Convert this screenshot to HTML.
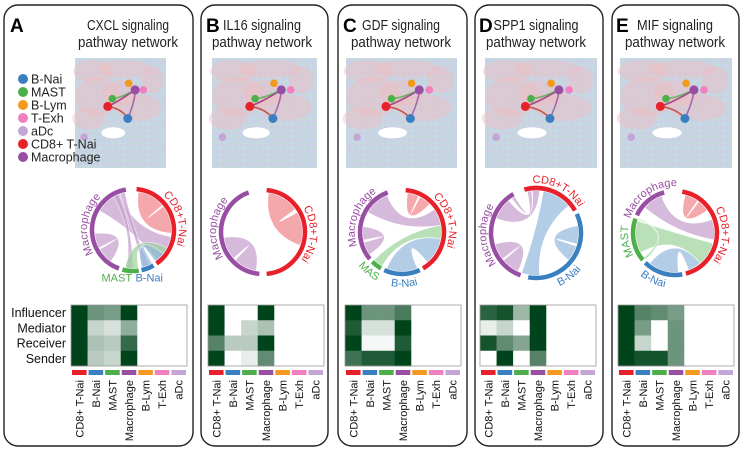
<!DOCTYPE html>
<html><head><meta charset="utf-8"><style>
html,body{margin:0;padding:0;background:#fff;}
svg{display:block;font-family:"Liberation Sans",sans-serif;}
</style></head><body>
<svg id="fig" width="746" height="452" viewBox="0 0 746 452" xmlns="http://www.w3.org/2000/svg"></svg>
<script>
const pathways = ["CXCL","IL16","GDF","SPP1","MIF"];
const panelLetters = ["A","B","C","D","E"];
const cellTypes = ["CD8+ T-Nai","B-Nai","MAST","Macrophage","B-Lym","T-Exh","aDc"];
const typeColors = ["#e8202a","#3a7fc0","#4daf4a","#984ea3","#f39a1e","#f27fbf","#c3a5d6"];
const roles = ["Influencer","Mediator","Receiver","Sender"];
const heatA = [[1,0.5,0.45,1,0,0,0],[1,0.15,0.1,0.35,0,0,0],[1,0.25,0.2,0.75,0,0,0],[1,0.2,0.15,1,0,0,0]];
const heatB = [[1,0,0,1,0,0,0],[1,0,0.15,0.25,0,0,0],[0.6,0.2,0.2,1,0,0,0],[1,0,0.05,0.55,0,0,0]];
const heatC = [[1,0.5,0.5,0.65,0,0,0],[0.85,0.1,0.1,1,0,0,0],[1,0.02,0.02,0.85,0,0,0],[0.7,0.85,0.85,1,0,0,0]];
const heatD = [[0.8,0.9,0.3,1,0,0,0],[0.05,0.15,0,1,0,0,0],[0.9,0.55,0.4,1,0,0,0],[0,1,0,0.6,0,0,0]];
const heatE = [[1,0.6,0.55,0.45,0,0,0],[1,0.45,0,0.5,0,0,0],[1,0.15,0,0.5,0,0,0],[1,0.9,0.9,0.5,0,0,0]];
const heats = [heatA,heatB,heatC,heatD,heatE];
const groupsA = [[0,5,145],[1,150,168],[2,172,195],[3,200,350]];
const groupsB = [[0,5,175],[3,185,340]];
const groupsC = [[0,5,150],[1,155,205],[2,210,225],[3,230,340]];
const groupsD = [[0,-15,60],[1,65,190],[3,200,330]];
const groupsE = [[0,10,165],[1,170,225],[2,230,290],[3,295,345]];
const groupSets = [groupsA,groupsB,groupsC,groupsD,groupsE];
const ribA = [[0,8,50,52,95],[3,215,240,242,265],[3,300,340,100,140],[3,330,338,180,190],[3,340,348,155,165],[2,172,192,118,142],[1,150,167,128,145]];
const ribB = [[0,8,55,60,110],[3,190,225,228,262]];
const ribC = [[0,8,25,27,45],[3,300,338,55,80],[3,235,255,258,278],[2,210,225,80,100],[1,157,203,100,140]];
const ribD = [[3,325,330,-12,-6],[3,205,230,232,255],[3,290,320,-5,5],[1,175,200,10,50],[1,80,105,108,130]];
const ribE = [[0,15,35,37,55],[3,310,340,70,100],[2,240,288,105,140],[1,175,220,140,160],[2,290,292,228,232]];
const ribSets = [ribA,ribB,ribC,ribD,ribE];
const labelsA = [["CD8+T-Nai",0,30,120,0],["Macrophage",3,225,330,0],["MAST",2,190,205,2],["B-Nai",1,150,175,2]];
const labelsB = [["CD8+T-Nai",0,45,140,0],["Macrophage",3,220,330,0]];
const labelsC = [["CD8+T-Nai",0,30,120,0],["Macrophage",3,245,335,0],["MAST",2,205,228,1],["B-Nai",1,155,200,1]];
const labelsD = [["CD8+T-Nai",0,-10,65,0],["Macrophage",3,215,320,0],["B-Nai",1,120,165,1]];
const labelsE = [["CD8+T-Nai",0,45,140,0],["Macrophage",3,280,370,0],["MAST",2,235,285,0],["B-Nai",1,185,225,1]];
const labelSets = [labelsA,labelsB,labelsC,labelsD,labelsE];
const nodeTypes = [4,3,5,2,0,1,6];
const nodeX = [0.59,0.66,0.75,0.41,0.36,0.58,0.10];
const nodeY = [0.23,0.29,0.29,0.37,0.44,0.55,0.72];
const titleLen1 = [82,78,78,85,76];

const panelBox = [[4,193],[201,328],[338,467],[475,603],[612,739]];
const heatX = [71,208,345,480,618];
const mapX = [75,212,346,485,620];
const mapW = [91,105,111,112,112];
const chordC = [[133,230,41],[263,232,42],[402,232,42],[536,233,45],[675,233,42]];
const titleX = [128,262,401,536,675];
const letterX = [10,206,343,479,616];

const svg = document.getElementById('fig');
const NS = "http://www.w3.org/2000/svg";
function mk(tag, attrs, parent){const e=document.createElementNS(NS,tag);for(const k in attrs)e.setAttribute(k,attrs[k]);(parent||svg).appendChild(e);return e;}
function pt(cx,cy,r,a){const t=a*Math.PI/180;return [cx+r*Math.sin(t),cy-r*Math.cos(t)];}
function heatColor(v){const a=[255,255,255],b=[0,68,27];const t=Math.pow(v,0.8);return `rgb(${Math.round(a[0]+(b[0]-a[0])*t)},${Math.round(a[1]+(b[1]-a[1])*t)},${Math.round(a[2]+(b[2]-a[2])*t)})`;}
function light(hex,f){const n=parseInt(hex.slice(1),16);const r=n>>16,g=(n>>8)&255,b=n&255;return `rgb(${Math.round(r+(255-r)*f)},${Math.round(g+(255-g)*f)},${Math.round(b+(255-b)*f)})`;}

const defs = mk('defs',{});
const pat = mk('pattern',{id:'tex',width:6,height:6,patternUnits:'userSpaceOnUse'},defs);
mk('rect',{width:6,height:6,fill:'#c6d6ea'},pat);
mk('circle',{cx:1.5,cy:1.5,r:1.2,fill:'#d7c9d2'},pat);
mk('circle',{cx:4.5,cy:4.5,r:1.2,fill:'#c8dcc8'},pat);

for(let p=0;p<5;p++){
  const g = mk('g',{});
  
  
  const [bx1,bx2]=panelBox[p];
  const box = mk('rect',{x:bx1,y:5,width:bx2-bx1,height:441,rx:14,fill:'none',stroke:'#222','stroke-width':1.4},g);
   
  const L = mk('text',{x:letterX[p],y:32,'font-size':19,'font-weight':'bold',fill:'#000'},g);
  L.textContent=panelLetters[p];
   
  const t1 = mk('text',{x:titleX[p],y:30,'font-size':14.5,'text-anchor':'middle',fill:'#222',textLength:titleLen1[p],lengthAdjust:'spacingAndGlyphs'},g);
  t1.textContent=pathways[p]+" signaling";
   
  const t2 = mk('text',{x:titleX[p],y:47,'font-size':14.5,'text-anchor':'middle',fill:'#222',textLength:100,lengthAdjust:'spacingAndGlyphs'},g);
  t2.textContent="pathway network";
   

  const mx=mapX[p], my=58, mw=mapW[p], mh=110;
  const mg = mk('g',{},g);
   
  mk('rect',{x:mx,y:my,width:mw,height:mh,fill:'url(#tex)'},mg);
  const pinks=[[0.2,0.12,0.22,0.1],[0.55,0.1,0.3,0.08],[0.25,0.35,0.25,0.18],[0.7,0.45,0.25,0.12],[0.15,0.55,0.18,0.1],[0.5,0.32,0.2,0.12],[0.85,0.2,0.12,0.12]];
  pinks.forEach(b=>mk('ellipse',{cx:mx+b[0]*mw,cy:my+b[1]*mh,rx:b[2]*mw,ry:b[3]*mh,fill:'#efbcc2',opacity:0.45},mg));
  mk('ellipse',{cx:mx+0.42*mw,cy:my+0.68*mh,rx:0.13*mw,ry:0.05*mh,fill:'#fff'},mg);
  const pos = i=>[mx+nodeX[i]*mw,my+nodeY[i]*mh];
  const edges=[[4,1,'#e8202a'],[4,5,'#c0392b'],[3,1,'#4daf4a'],[1,5,'#984ea3'],[4,1,'#984ea3']];
  edges.forEach((e,k)=>{const a=pos(e[0]),b=pos(e[1]);mk('path',{d:`M${a[0]},${a[1]} Q${(a[0]+b[0])/2+(k%2?4:-4)},${(a[1]+b[1])/2+(k%2?-4:4)} ${b[0]},${b[1]}`,fill:'none',stroke:e[2],'stroke-width':1.6,opacity:0.8},mg);});
  for(let i=0;i<nodeTypes.length;i++){
    const [x,y]=pos(i);
    const c=mk('circle',{cx:x,cy:y,r:(i==1||i==4||i==5)?4.5:3.8,fill:typeColors[nodeTypes[i]]},mg);
     
  }

  const [cx,cy,r]=chordC[p];
  const cg = mk('g',{},g);
   
  ribSets[p].forEach(rb=>{
    const rr=r-2.5;
    const A1=pt(cx,cy,rr,rb[1]),A2=pt(cx,cy,rr,rb[2]),B1=pt(cx,cy,rr,rb[3]),B2=pt(cx,cy,rr,rb[4]);
    const la=(rb[2]-rb[1])>180?1:0, lb=(rb[4]-rb[3])>180?1:0;
    const d=`M${A1[0]},${A1[1]} A${rr},${rr} 0 ${la} 1 ${A2[0]},${A2[1]} Q${cx},${cy} ${B1[0]},${B1[1]} A${rr},${rr} 0 ${lb} 1 ${B2[0]},${B2[1]} Q${cx},${cy} ${A1[0]},${A1[1]}Z`;
    const e=mk('path',{d,fill:light(typeColors[rb[0]],0.45),opacity:0.7,stroke:'#fff','stroke-width':0.6},cg);
     
  });
  groupSets[p].forEach(gr=>{
    const a=pt(cx,cy,r,gr[1]),b=pt(cx,cy,r,gr[2]);
    const e=mk('path',{d:`M${a[0]},${a[1]} A${r},${r} 0 ${(gr[2]-gr[1])>180?1:0} 1 ${b[0]},${b[1]}`,fill:'none',stroke:typeColors[gr[0]],'stroke-width':4.5},cg);
     
  });
  labelSets[p].forEach((lb,k)=>{
    const id=`lp${p}_${k}`;
    let d;
    if(lb[4]===0){const rr=r+5;const a=pt(cx,cy,rr,lb[2]),b=pt(cx,cy,rr,lb[3]);d=`M${a[0]},${a[1]} A${rr},${rr} 0 0 1 ${b[0]},${b[1]}`;}
    else if(lb[4]===1){const rr=r+13;const a=pt(cx,cy,rr,lb[3]),b=pt(cx,cy,rr,lb[2]);d=`M${a[0]},${a[1]} A${rr},${rr} 0 0 0 ${b[0]},${b[1]}`;}
    else {const m=pt(cx,cy,r+13,(lb[2]+lb[3])/2);d=`M${m[0]-20},${m[1]} L${m[0]+20},${m[1]}`;}
    mk('path',{id,d,fill:'none'},defs);
    const t=mk('text',{'font-size':11,fill:typeColors[lb[1]]},cg);
     
    const tp=mk('textPath',{href:'#'+id,startOffset:'50%','text-anchor':'middle'},t);
    tp.textContent=lb[0];
  });

  const hx=heatX[p], hy=305, cw=116/7, rh=61/4;
  const hg = mk('g',{},g);
   
  heats[p].forEach((row,ri)=>row.forEach((v,ci)=>{
    const c=mk('rect',{x:hx+ci*cw,y:hy+ri*rh,width:cw+0.3,height:rh+0.3,fill:heatColor(v)},hg);
     
  }));
  mk('rect',{x:hx,y:hy,width:116,height:61,fill:'none',stroke:'#999','stroke-width':0.8},hg);
  cellTypes.forEach((ct,ci)=>{
    const b=mk('rect',{x:hx+ci*cw+1,y:370,width:cw-2,height:5,fill:typeColors[ci]},hg);
     
    const x=hx+ci*cw+cw/2+4;
    const t=mk('text',{x:x,y:380,'font-size':11,'text-anchor':'end',transform:`rotate(-90 ${x} 380)`,fill:'#111'},hg);
    t.textContent=ct;
     
  });
  if(p===0){
    roles.forEach((ro,ri)=>{
      const t=mk('text',{x:66,y:hy+ri*rh+rh/2+4.5,'font-size':12.5,'text-anchor':'end',fill:'#111'},hg);
      t.textContent=ro;
       
    });
  }
}
const legendTypes=[1,2,4,5,6,0,3];
const legendNames=["B-Nai","MAST","B-Lym","T-Exh","aDc","CD8+ T-Nai","Macrophage"];
const lg=mk('g',{});
 
legendNames.forEach((n,i)=>{
  const y=79+i*13;
  const c=mk('circle',{cx:23,cy:y,r:5,fill:typeColors[legendTypes[i]]},lg);
   
  const t=mk('text',{x:31,y:y+4.5,'font-size':12.5,fill:'#222'},lg);
  t.textContent=n;
   
});
</script>
</body></html>
